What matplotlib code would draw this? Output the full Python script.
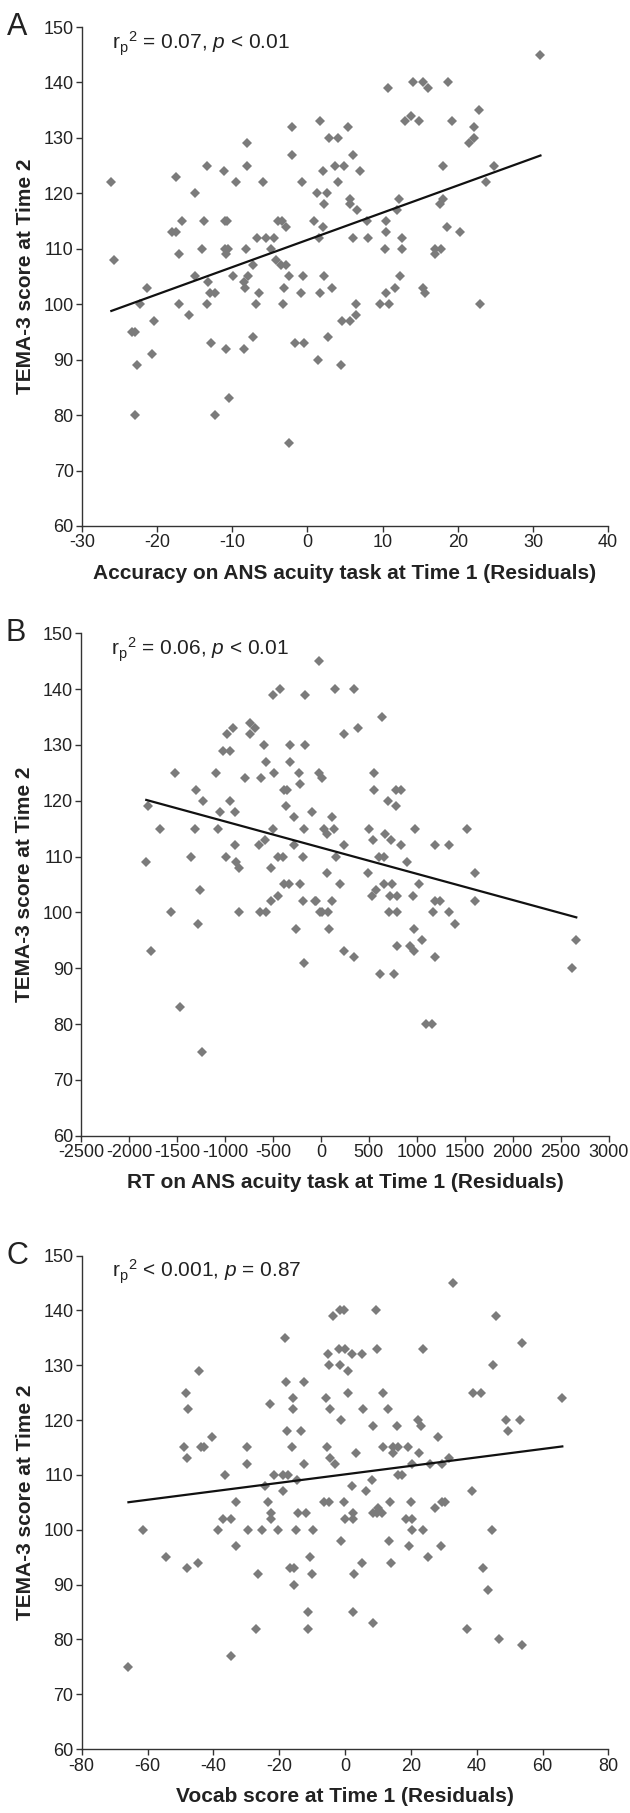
import matplotlib
matplotlib.use("Agg")
import matplotlib.pyplot as plt
import numpy as np

plt.rcParams["font.family"] = ["Liberation Sans", "DejaVu Sans"]
plt.rcParams["mathtext.fontset"] = "custom"
plt.rcParams["mathtext.rm"] = "Liberation Sans"
plt.rcParams["mathtext.it"] = "Liberation Sans:italic"
plt.rcParams["axes.unicode_minus"] = False

# Panel A: accuracy residuals vs TEMA-3
acc_x = [-26.1, -25.8, -21.3, -17.5, -18.0, -17.5, -16.7, -17.1, -15.0, -13.8, -13.4, -14.1,
         -15.0, -13.2, -13.0, -12.3, -11.1, -11.0, -10.7, -11.0, -10.6, -10.9, -9.5, -8.0,
         -8.0, -8.2, -6.7, -5.5, -4.4, -5.9, -9.9, -8.5, -7.9, -8.3, -7.3, -6.5, -4.9, -3.9,
         -3.4, -2.9, -4.2, -3.5, -2.9, -2.4, -3.1, -2.1, -2.0, -0.7, -0.65, -0.9, 1.6, 1.3,
         0.9, -22.3, -23.4, -22.9, -22.7, -23.0, -20.4, -20.7, -17.1, -15.7, -13.4, -12.9,
         -12.3, -10.9, -10.4, -8.5, -7.2, -6.9, -3.3, -2.4, -1.7, -0.5, 1.4, 1.7, 3.2, 2.7,
         4.5, 4.6, 5.6, 6.4, 6.4, 9.7, 10.8, 10.5, 11.6, 15.4, 15.6, 23.0, 31.0, 10.7, 14.1,
         15.4, 16.0, 18.7, 13.0, 13.8, 14.9, 19.2, 22.8, 22.2, 21.5, 22.2, 5.4, 2.8, 4.1, 6.0,
         3.7, 4.9, 2.1, 7.0, 4.1, 2.6, 2.2, 5.6, 5.6, 6.6, 2.1, 1.5, 6.1, 8.1, 7.9, 10.5, 10.5,
         12.2, 11.9, 10.3, 12.6, 12.6, 18.0, 18.1, 17.7, 23.7, 24.8, 18.6, 20.3, 17.0, 17.8,
         17.0, 2.2, 12.3]
acc_y = [122, 108, 103, 123, 113, 113, 115, 109, 120, 115, 125, 110,
         105, 104, 102, 102, 124, 115, 115, 110, 110, 109, 122, 129,
         125, 110, 112, 112, 112, 122, 105, 104, 105, 103, 107, 102, 110, 115,
         115, 114, 108, 107, 107, 105, 103, 132, 127, 122, 105, 102, 133, 120,
         115, 100, 95, 95, 89, 80, 97, 91, 100, 98, 100, 93,
         80, 92, 83, 92, 94, 100, 100, 75, 93, 93, 90, 102, 103, 94,
         89, 97, 97, 98, 100, 100, 100, 102, 103, 103, 102, 100, 145, 139, 140,
         140, 139, 140, 133, 134, 133, 133, 135, 132, 129, 130, 132, 130, 130, 127,
         125, 125, 124, 124, 122, 120, 118, 119, 118, 117, 114, 112, 112, 112, 115, 115, 113,
         119, 117, 110, 110, 112, 125, 119, 118, 122, 125, 114, 113, 110, 110,
         109, 105, 105]

# Panel B: RT residuals vs TEMA-3
rt_x = [-1805, -1676, -1822, -1527, -1304, -1235, -1318, -1356, -1259, -1092, -1050, -953,
        -894, -1074, -1026, -953, -980, -922, -894, -988, -884, -852, -789, -745, -685, -737,
        -623, -599, -574, -494, -501, -424, -650, -581, -501, -521, -452, -396, -390, -355,
        -362, -327, -327, -285, -278, -390, -338, -452, -521, -233, -223, -171, -171, -94,
        -181, -188, -216, -188, -59, -20, -25, 10, 149, 340, 636, 236, 382, 556, 549, 785,
        834, 699, 782, 115, 27, 132, 63, 497, 976, 1523, 542, 663, 733, 236, 838, 1192, 1338,
        157, 608, 653, 897, 63, 490, 1609, 201, 653, 741, 1025, 532, 577, 716, 793, 959, -49,
        115, 1192, 1244, 1609, -1565, -1287, -1773, -1467, -1241, -859, -633, -574, -257,
        -174, -7, 10, 69, 705, 793, 1164, 1338, 1394, 87, 973, 1053, 793, 924, 973, 243, 340,
        1185, 611, 757, 1098, 1158, 2663, 2618]
rt_y = [119, 115, 109, 125, 122, 120, 115, 110, 104, 125, 118, 120,
        118, 115, 129, 129, 132, 133, 112, 110, 109, 108, 124, 134, 133, 132,
        124, 130, 127, 125, 139, 140, 112, 113, 115, 108, 110, 110, 122, 122,
        119, 127, 130, 117, 112, 105, 105, 103, 102, 125, 123, 139, 130, 118,
        115, 110, 105, 102, 102, 145, 125, 124, 140, 140, 135, 132, 133, 125, 122, 122,
        122, 120, 119, 117, 115, 115, 114, 115, 115, 115, 113, 114, 113, 112, 112, 112, 112,
        110, 110, 110, 109, 107, 107, 107, 105, 105, 105, 105, 103, 104, 103, 103, 103, 102,
        102, 102, 102, 102, 100, 98, 93, 83, 75, 100, 100, 100, 97,
        91, 100, 100, 100, 100, 100, 100, 100, 98, 97, 97, 95, 94, 94, 93, 93, 92,
        92, 89, 89, 80, 80, 95, 90]

# Panel C: vocab residuals vs TEMA-3
voc_x = [-18.2, -44.4, -48.4, -47.6, -49.0, -48.0, -43.8, -42.8, -40.5, -36.5, -33.1, -29.7,
         -29.9, -22.8, -17.9, -15.7, -15.9, -17.5, -13.4, -16.2, -12.4, -12.4, -24.3, -21.5,
         -18.8, -17.2, -18.9, -14.5, -23.3, -65.8, -61.3, -54.4, -48.1, -44.6, -38.7, -37.0,
         -34.6, -33.1, -34.7, -29.4, -25.3, -20.3, -26.5, -27.0, -22.5, -22.5, -16.7, -15.5,
         -15.5, -15.0, -14.2, -11.9, -9.6, -10.8, -10.1, -11.2, -11.2, 32.7, -3.7, -1.5, -0.2,
         9.4, 45.9, 53.7, -5.3, -1.8, 0.0, 2.2, 5.1, 9.6, 23.8, -4.9, -1.5, 1.0, 44.9, -5.8,
         -4.6, 1.0, 11.6, 38.8, 41.3, 66.0, 5.4, 13.0, -1.3, 8.4, 15.9, 22.3, 23.0, 48.9, 53.0,
         49.6, 28.2, -5.6, 11.4, 14.5, 16.2, 19.0, 14.7, 3.2, 22.5, -4.6, -3.0, 20.4, 25.8,
         29.6, 31.6, 16.2, 17.4, 8.3, 2.0, 6.3, 38.5, -6.4, -4.9, -0.3, 13.7, 20.0, 27.3, 29.4,
         30.3, 0.0, 2.3, 2.5, 8.6, 9.6, 11.1, 10.1, 18.5, 20.4, 20.4, 23.6, 44.7, -1.3, 13.2,
         19.4, 29.1, 25.3, 5.1, 14.0, 2.8, 41.8, 43.5, 2.3, 8.4, 37.0, 46.9, 53.7]
voc_y = [135, 129, 125, 122, 115, 113, 115, 115, 117, 110, 105, 115,
         112, 123, 127, 124, 122, 118, 118, 115, 127, 112, 108, 110,
         110, 110, 107, 109, 105, 75, 100, 95, 93, 94, 100, 102,
         102, 97, 77, 100, 100, 100, 92, 82, 103, 102, 93, 93,
         90, 100, 103, 103, 100, 95, 92, 85, 82, 145, 139, 140, 140,
         140, 139, 134, 132, 133, 133, 132, 132, 133, 133, 130, 130, 129, 130, 124,
         122, 125, 125, 125, 125, 124, 122, 122, 120, 119, 119, 120, 119, 120, 120,
         118, 117, 115, 115, 115, 115, 115, 114, 114, 114, 113, 112, 112, 112,
         112, 113, 110, 110, 109, 108, 107, 107, 105, 105, 105, 105, 105, 104, 105,
         105, 102, 102, 103, 103, 103, 103, 104, 102, 102, 100, 100, 100, 98, 98,
         97, 97, 95, 94, 94, 92, 93, 89, 85, 83, 82, 80, 79]

# regression lines (intercept, slope)
fit_a = (111.6, 0.491)
fit_b = (111.6, -0.00469)
fit_c = (110.1, 0.0772)

panels = [
    ("A", acc_x, acc_y, fit_a, (-30, 40, 10),
     "Accuracy on ANS acuity task at Time 1 (Residuals)",
     r"r$_{\mathregular{p}}$$^{\mathregular{2}}$ = 0.07, $p$ < 0.01",
     [0.1302, 0.7099, 0.8350, 0.2752]),
    ("B", rt_x, rt_y, fit_b, (-2500, 3000, 500),
     "RT on ANS acuity task at Time 1 (Residuals)",
     r"r$_{\mathregular{p}}$$^{\mathregular{2}}$ = 0.06, $p$ < 0.01",
     [0.1290, 0.3736, 0.8370, 0.2771]),
    ("C", voc_x, voc_y, fit_c, (-80, 80, 20),
     "Vocab score at Time 1 (Residuals)",
     r"r$_{\mathregular{p}}$$^{\mathregular{2}}$ < 0.001, $p$ = 0.87",
     [0.1297, 0.0352, 0.8360, 0.2723]),
]

fig = plt.figure(figsize=(6.30, 18.13), dpi=100)

for letter, xs, ys, fit, xr, xlabel, note, pos in panels:
    ax = fig.add_axes(pos)
    ax.plot(xs, ys, linestyle="none", marker="D", markersize=5.6,
            color="#7b7b7b", markeredgewidth=0)
    x0, x1 = min(xs), max(xs)
    ax.plot([x0, x1], [fit[0] + fit[1] * x0, fit[0] + fit[1] * x1],
            color="#111111", linewidth=1.6)
    ax.set_xlim(xr[0], xr[1])
    ax.set_ylim(60, 150)
    ax.set_xticks(np.arange(xr[0], xr[1] + xr[2] / 2, xr[2]))
    ax.set_yticks(np.arange(60, 151, 10))
    for s in ["top", "right"]:
        ax.spines[s].set_visible(False)
    for s in ["left", "bottom"]:
        ax.spines[s].set_color("#333333")
        ax.spines[s].set_linewidth(1.0)
    ax.tick_params(direction="out", length=4, width=1.0, color="#333333",
                   labelsize=13, labelcolor="#222222", pad=2)
    ax.set_xlabel(xlabel, fontsize=15, fontweight="bold", color="#222222", labelpad=9)
    ax.set_ylabel("TEMA-3 score at Time 2", fontsize=15, fontweight="bold",
                  color="#222222", labelpad=6)
    ax.text(0.057, 0.995, note, transform=ax.transAxes, fontsize=15,
            color="#222222", va="top", ha="left")
    ax.text(-0.143, 1.0, letter, transform=ax.transAxes, fontsize=22,
            color="#222222", va="center", ha="left")

fig.savefig("out.png", dpi=100)
